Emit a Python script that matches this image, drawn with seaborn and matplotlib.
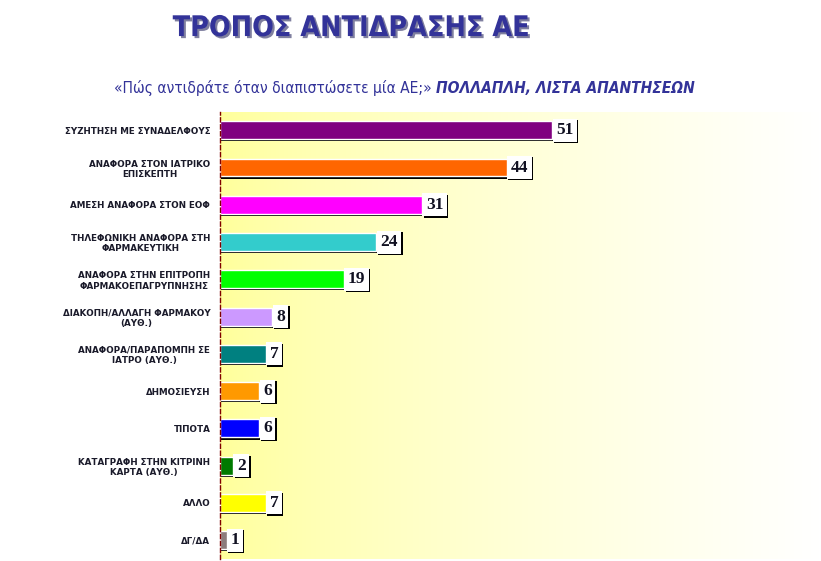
import numpy as np
import pandas as pd
import matplotlib
matplotlib.use("Agg")
import matplotlib.pyplot as plt
import matplotlib.patheffects as pe
from matplotlib import font_manager
import seaborn as sns

categories = [
    "ΣΥΖΗΤΗΣΗ ΜΕ ΣΥΝΑΔΕΛΦΟΥΣ",
    "ΑΝΑΦΟΡΑ ΣΤΟΝ ΙΑΤΡΙΚΟ\nΕΠΙΣΚΕΠΤΗ",
    "ΑΜΕΣΗ ΑΝΑΦΟΡΑ ΣΤΟΝ ΕΟΦ",
    "ΤΗΛΕΦΩΝΙΚΗ ΑΝΑΦΟΡΑ ΣΤΗ\nΦΑΡΜΑΚΕΥΤΙΚΗ",
    "ΑΝΑΦΟΡΑ ΣΤΗΝ ΕΠΙΤΡΟΠΗ\nΦΑΡΜΑΚΟΕΠΑΓΡΥΠΝΗΣΗΣ",
    "ΔΙΑΚΟΠΗ/ΑΛΛΑΓΗ ΦΑΡΜΑΚΟΥ\n(ΑΥΘ.)",
    "ΑΝΑΦΟΡΑ/ΠΑΡΑΠΟΜΠΗ ΣΕ\nΙΑΤΡΟ (ΑΥΘ.)",
    "ΔΗΜΟΣΙΕΥΣΗ",
    "ΤΙΠΟΤΑ",
    "ΚΑΤΑΓΡΑΦΗ ΣΤΗΝ ΚΙΤΡΙΝΗ\nΚΑΡΤΑ (ΑΥΘ.)",
    "ΑΛΛΟ",
    "ΔΓ/ΔΑ",
]
values = [51, 44, 31, 24, 19, 8, 7, 6, 6, 2, 7, 1]
bar_colors = ["#800080", "#ff6600", "#ff00ff", "#33cccc", "#00ff00", "#cc99ff",
              "#008080", "#ff9900", "#0000ff", "#007a00", "#ffff00", "#8c7c7c"]

title = "ΤΡΟΠΟΣ ΑΝΤΙΔΡΑΣΗΣ ΑΕ"
question = "«Πώς αντιδράτε όταν διαπιστώσετε μία ΑΕ;»"
note = "ΠΟΛΛΑΠΛΗ, ΛΙΣΤΑ ΑΠΑΝΤΗΣΕΩΝ"

df = pd.DataFrame({"cat": categories, "val": values})

sns.set_style("white")
plt.rcParams["font.family"] = ["DejaVu Sans"]

# narrow face for the headings if one is around
names = {f.name for f in font_manager.fontManager.ttflist}
narrow = "Liberation Sans Narrow" if "Liberation Sans Narrow" in names else "DejaVu Sans"

fig = plt.figure(figsize=(8.21, 5.61), dpi=100)
ax = fig.add_axes([0.268, 0.004, 0.73, 0.797])

xmax = 92
# yellow-to-white background
t = np.linspace(0, 1, 256) ** 0.7
grad = np.ones((1, 256, 3))
grad[0, :, 2] = 0.6 + 0.4 * t
ax.imshow(grad, extent=(0, xmax, 11.5, -0.5), aspect="auto", zorder=0)

sns.barplot(data=df, x="val", y="cat", hue="cat", palette=bar_colors,
            orient="h", width=0.48, legend=False, saturation=1, ax=ax, zorder=2)
for p in ax.patches:
    p.set_path_effects([pe.SimplePatchShadow(offset=(0.6, -1.6), shadow_rgbFace="black", alpha=1),
                        pe.Normal()])

ax.set_xlim(0, xmax)
ax.set_ylim(11.5, -0.5)
ax.set_xlabel("")
ax.set_ylabel("")
ax.set_xticks([])
for s in ["top", "right", "bottom"]:
    ax.spines[s].set_visible(False)
ax.spines["left"].set_color("#800000")
ax.spines["left"].set_linestyle((0, (3, 2)))
ax.spines["left"].set_linewidth(1)
ax.spines["left"].set_zorder(5)

ax.set_yticks(range(len(categories)))
ax.set_yticklabels(categories, fontsize=6.3, fontweight="bold", color="#1a1a2a",
                   multialignment="center")
ax.tick_params(axis="y", which="major", length=0, pad=7)
ax.set_yticks(np.arange(-0.5, len(categories), 1), minor=True)
ax.tick_params(axis="y", which="minor", length=3, color="#800000", direction="out")

for i, v in enumerate(values):
    txt = ax.text(v + 0.6, i, str(v), ha="left", va="center", fontsize=12.5,
                  fontweight="bold", family="Liberation Serif", color="#111122", zorder=6,
                  bbox=dict(boxstyle="square,pad=0.2", fc="white", ec="none"))
    txt.get_bbox_patch().set_path_effects([
        pe.SimplePatchShadow(offset=(1.0, -1.0), shadow_rgbFace="black", alpha=1),
        pe.Normal()])

fig.text(0.428, 0.950, title, ha="center", va="center", fontsize=20.5, fontweight="bold",
         family=narrow, fontstretch="condensed", color="#333399",
         path_effects=[pe.withSimplePatchShadow(offset=(1.5, -1.5), shadow_rgbFace="#7f7f9f", alpha=1)])
fig.text(0.526, 0.843, question, ha="right", va="center", fontsize=11.2,
         family=narrow, fontstretch="condensed", color="#333399")
fig.text(0.531, 0.843, note, ha="left", va="center", fontsize=11.2, fontweight="bold",
         style="italic", family=narrow, fontstretch="condensed", color="#333399")

fig.savefig("out.png", dpi=100)
